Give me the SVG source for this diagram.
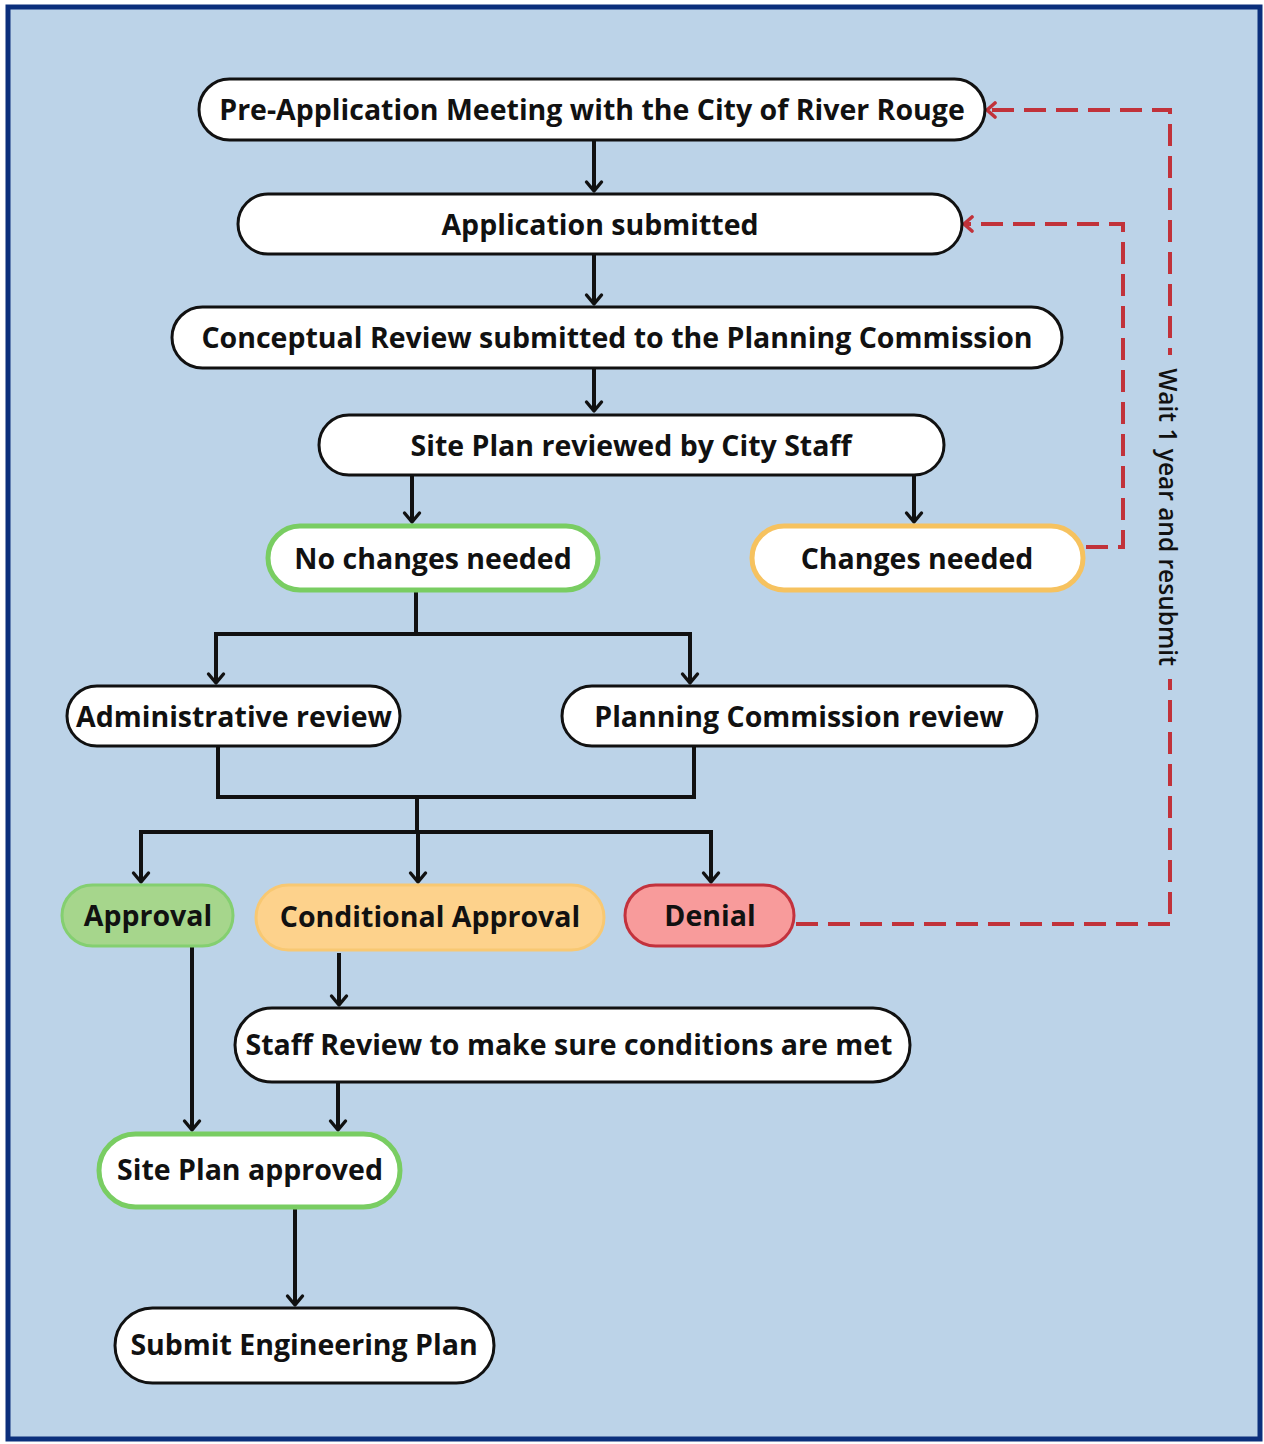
<svg xmlns="http://www.w3.org/2000/svg" width="1264" height="1444" viewBox="0 0 1264 1444">
  <style>
    .node { fill: #ffffff; stroke: #111111; stroke-width: 3; }
    .ok { stroke: #79cd62; stroke-width: 5; }
    .warn { stroke: #f6c25f; stroke-width: 5; }
    .approve { fill: #a6d68c; stroke: #84cf70; stroke-width: 3; }
    .cond { fill: #fdd28c; stroke: #f8c872; stroke-width: 3; }
    .deny { fill: #f89b9b; stroke: #c3323d; stroke-width: 3; }
    .label { font-family: "Open Sans", "Liberation Sans", sans-serif; font-weight: 700; font-size: 28.5px; fill: #111111; text-anchor: middle; dominant-baseline: central; }
    .note { font-family: "Open Sans", "Liberation Sans", sans-serif; font-weight: 600; font-size: 24.5px; fill: #111111; text-anchor: middle; dominant-baseline: central; }
    .flow { fill: none; stroke: #111111; stroke-width: 4; }
    .back { fill: none; stroke: #c1323a; stroke-width: 4; stroke-dasharray: 22 10; }
  </style>
  <defs>
    <!-- open chevron heads, drawn pointing along +x -->
    <marker id="arrow" viewBox="0 0 20 20" refX="17" refY="10" markerWidth="20" markerHeight="20" markerUnits="userSpaceOnUse" orient="auto">
      <path d="M8,2.5 L17,10 L8,17.5" fill="none" stroke="#111111" stroke-width="3.4" stroke-linecap="round" stroke-linejoin="round"/>
    </marker>
    <marker id="redarrow" viewBox="0 0 18 18" refX="16" refY="9" markerWidth="18" markerHeight="18" markerUnits="userSpaceOnUse" orient="auto">
      <path d="M8,2 L16,9 L8,16" fill="none" stroke="#c1323a" stroke-width="3.6" stroke-linecap="round" stroke-linejoin="round"/>
    </marker>
  </defs>

  <!-- background and frame -->
  <rect x="0" y="0" width="1264" height="1444" fill="#ffffff"/>
  <rect x="8" y="7" width="1252" height="1432" fill="#bcd3e8" stroke="#0b2f7c" stroke-width="5"/>

  <!-- connectors -->
  <g id="connectors">
    <path class="flow" d="M594,140 V191" marker-end="url(#arrow)"/>
    <path class="flow" d="M594,254 V304" marker-end="url(#arrow)"/>
    <path class="flow" d="M594,368 V411" marker-end="url(#arrow)"/>
    <path class="flow" d="M412,475 V522" marker-end="url(#arrow)"/>
    <path class="flow" d="M914,475 V522" marker-end="url(#arrow)"/>

    <path class="flow" d="M416,591 V634"/>
    <path class="flow" d="M214,634 H692"/>
    <path class="flow" d="M216,634 V683" marker-end="url(#arrow)"/>
    <path class="flow" d="M690,634 V683" marker-end="url(#arrow)"/>

    <path class="flow" d="M218,746 V797 H694 V746"/>
    <path class="flow" d="M417,797 V832"/>
    <path class="flow" d="M139,832 H713"/>
    <path class="flow" d="M141,832 V882" marker-end="url(#arrow)"/>
    <path class="flow" d="M418,832 V882" marker-end="url(#arrow)"/>
    <path class="flow" d="M711,832 V882" marker-end="url(#arrow)"/>

    <path class="flow" d="M192,946 V1130" marker-end="url(#arrow)"/>
    <path class="flow" d="M339,953 V1005" marker-end="url(#arrow)"/>
    <path class="flow" d="M338,1082 V1130" marker-end="url(#arrow)"/>
    <path class="flow" d="M295,1208 V1305" marker-end="url(#arrow)"/>

    <!-- return loops -->
    <path class="back" d="M1086,547 H1123 V224 H964" marker-end="url(#redarrow)"/>
    <path class="back" d="M796,924 H1170 V110 H987" marker-end="url(#redarrow)"/>
    <rect x="1156" y="355" width="28" height="324" fill="#bcd3e8"/>
    <text class="note" transform="translate(1168,517) rotate(90)">Wait 1 year and resubmit</text>
  </g>

  <!-- nodes -->
  <g id="pre-application">
    <rect class="node" x="199" y="79" width="786" height="61" rx="30.5"/>
    <text class="label" x="592" y="109">Pre-Application Meeting with the City of River Rouge</text>
  </g>
  <g id="application-submitted">
    <rect class="node" x="238" y="194" width="724" height="60" rx="30"/>
    <text class="label" x="600" y="224">Application submitted</text>
  </g>
  <g id="conceptual-review">
    <rect class="node" x="172" y="307" width="890" height="61" rx="30.5"/>
    <text class="label" x="617" y="337">Conceptual Review submitted to the Planning Commission</text>
  </g>
  <g id="site-plan-reviewed">
    <rect class="node" x="319" y="415" width="625" height="60" rx="30"/>
    <text class="label" x="631" y="445">Site Plan reviewed by City Staff</text>
  </g>
  <g id="no-changes">
    <rect class="node ok" x="268" y="526" width="330" height="64" rx="32"/>
    <text class="label" x="433" y="558">No changes needed</text>
  </g>
  <g id="changes-needed">
    <rect class="node warn" x="752" y="526" width="331" height="64" rx="32"/>
    <text class="label" x="917" y="558">Changes needed</text>
  </g>
  <g id="administrative-review">
    <rect class="node" x="67" y="686" width="333" height="60" rx="30"/>
    <text class="label" x="234" y="716">Administrative review</text>
  </g>
  <g id="planning-commission-review">
    <rect class="node" x="562" y="686" width="475" height="60" rx="30"/>
    <text class="label" x="799" y="716">Planning Commission review</text>
  </g>
  <g id="approval">
    <rect class="approve" x="62" y="885" width="171" height="61" rx="30.5"/>
    <text class="label" x="148" y="915">Approval</text>
  </g>
  <g id="conditional-approval">
    <rect class="cond" x="256" y="885" width="348" height="65" rx="32.5"/>
    <text class="label" x="430" y="916">Conditional Approval</text>
  </g>
  <g id="denial">
    <rect class="deny" x="625" y="885" width="169" height="61" rx="30.5"/>
    <text class="label" x="710" y="915">Denial</text>
  </g>
  <g id="staff-review">
    <rect class="node" x="235" y="1008" width="675" height="74" rx="37"/>
    <text class="label" x="569" y="1044">Staff Review to make sure conditions are met</text>
  </g>
  <g id="site-plan-approved">
    <rect class="node ok" x="99" y="1134" width="301" height="73" rx="36.5"/>
    <text class="label" x="250" y="1169">Site Plan approved</text>
  </g>
  <g id="submit-engineering-plan">
    <rect class="node" x="115" y="1308" width="379" height="75" rx="37.5"/>
    <text class="label" x="304" y="1344">Submit Engineering Plan</text>
  </g>
</svg>
